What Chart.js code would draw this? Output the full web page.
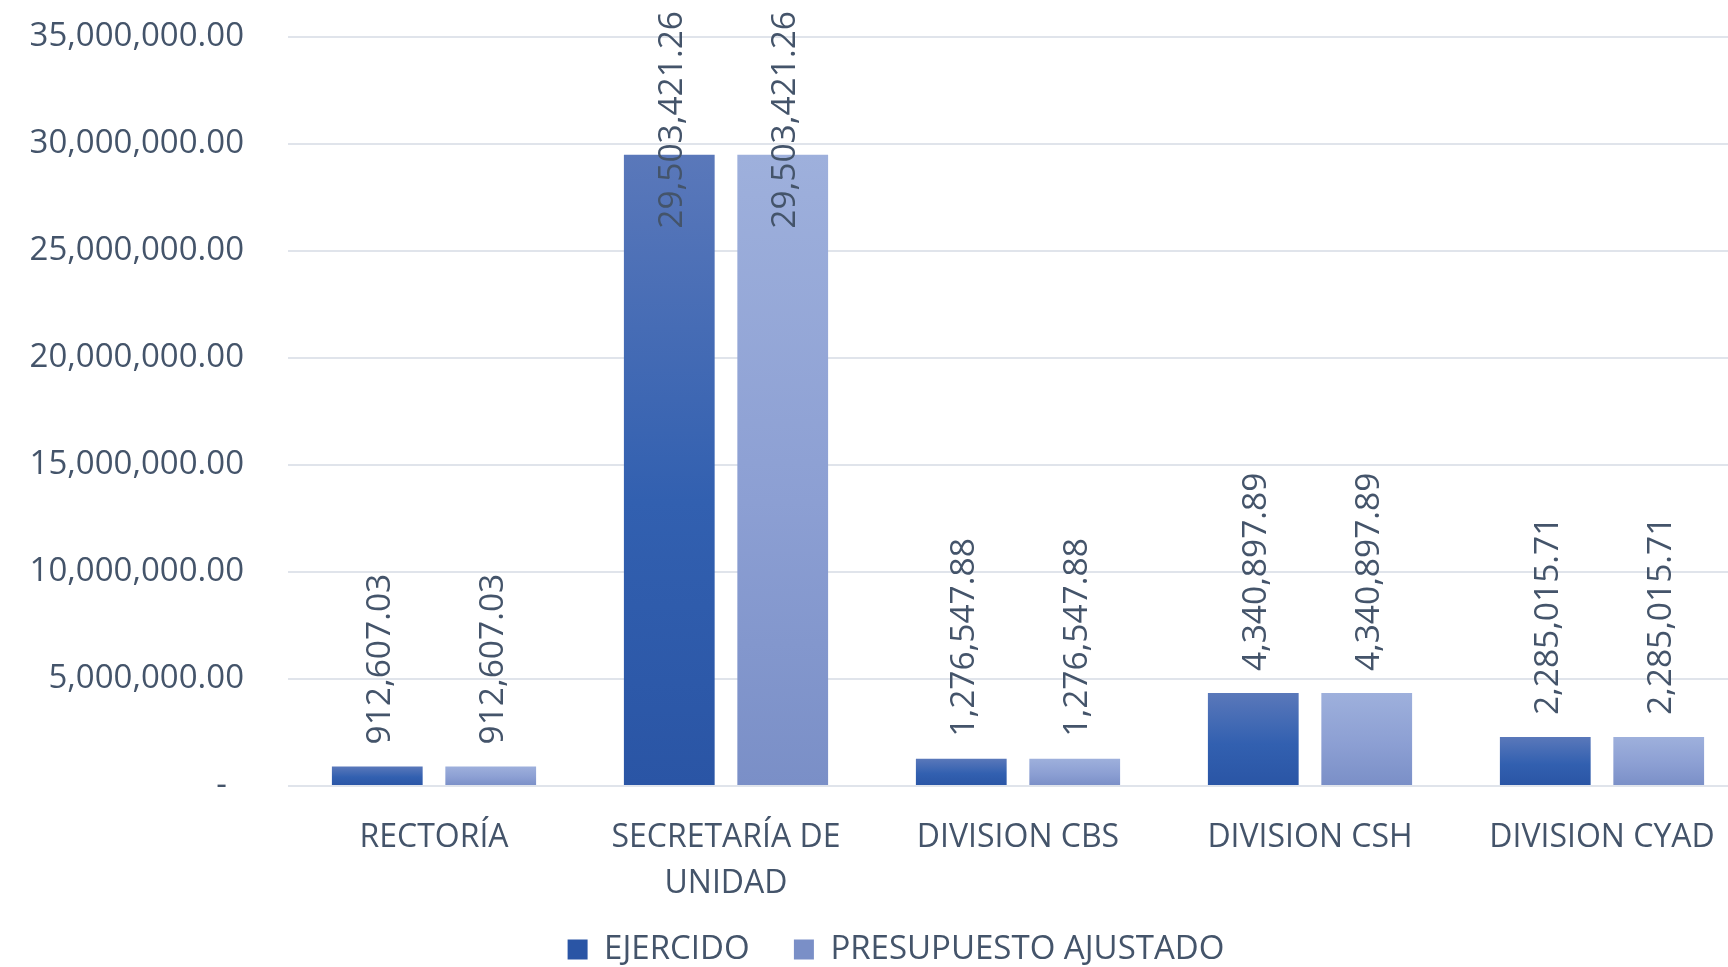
<!DOCTYPE html>
<html>
<head>
<meta charset="utf-8">
<title>Ejercido vs presupuesto ajustado</title>
<script src="https://cdn.jsdelivr.net/npm/chart.js@4/dist/chart.umd.min.js"></script>
<style>
  html, body { margin: 0; padding: 0; background: #fff; overflow: hidden; }
  #wrap { width: 1792px; height: 967px; }
</style>
</head>
<body>
<div id="wrap"><canvas id="budgetChart" width="1792" height="967"></canvas></div>
<script>
// categories (multi-line label as array)
const categories = ['RECTORÍA', ['SECRETARÍA DE', 'UNIDAD'], 'DIVISION CBS', 'DIVISION CSH', 'DIVISION CYAD'];

// series values
const ejercido = [912607.03, 29503421.26, 1276547.88, 4340897.89, 2285015.71];
const presupuestoAjustado = [912607.03, 29503421.26, 1276547.88, 4340897.89, 2285015.71];

// y axis ticks
const yMax = 35000000;
const yStep = 5000000;

const textColor = '#44546a';
const fontFamily = '"Open Sans", "Noto Sans", sans-serif';

const money = v => v.toLocaleString('en-US', { minimumFractionDigits: 2, maximumFractionDigits: 2 });

// vertical gradient inside each bar, from its top down to the zero line
function barGradient(stops, flat) {
    return function (context) {
        const chart = context.chart;
        if (context.type !== 'data' || !chart.chartArea) return flat;
        const y = chart.scales.y;
        const top = y.getPixelForValue(context.raw);
        const base = y.getPixelForValue(0);
        const g = chart.ctx.createLinearGradient(0, top, 0, base);
        g.addColorStop(0, stops[0]);
        g.addColorStop(0.55, stops[1]);
        g.addColorStop(1, stops[2]);
        return g;
    };
}

// rotated value labels above each bar, pushed down when they would leave the top
const valueLabels = {
    id: 'valueLabels',
    afterDatasetsDraw(chart) {
        const ctx = chart.ctx;
        ctx.save();
        ctx.font = '33.5px ' + fontFamily;
        ctx.fillStyle = textColor;
        ctx.textAlign = 'left';
        ctx.textBaseline = 'middle';
        chart.data.datasets.forEach((ds, i) => {
            chart.getDatasetMeta(i).data.forEach((bar, j) => {
                const text = money(ds.data[j]);
                const w = ctx.measureText(text).width;
                let start = bar.y - 22;
                if (start - w < 11) start = 11 + w;
                ctx.save();
                ctx.translate(bar.x + 3, start);
                ctx.rotate(-Math.PI / 2);
                ctx.fillText(text, 0, 0);
                ctx.restore();
            });
        });
        ctx.restore();
    }
};

// nudge the legend row a little to the right
const legendShift = {
    id: 'legendShift',
    afterLayout(chart) {
        if (chart.legend) {
            chart.legend.left += 9;
            chart.legend.right += 9;
        }
    }
};

const bottomPad = -9;

const ctx = document.getElementById('budgetChart').getContext('2d');

new Chart(ctx, {
    type: 'bar',
    data: {
        labels: categories,
        datasets: [
            {
                label: 'EJERCIDO',
                data: ejercido,
                backgroundColor: barGradient(['#5a78ba', '#3260b0', '#2a55a5'], '#3a62b0'),
                categoryPercentage: 0.777,
                barPercentage: 0.8
            },
            {
                label: 'PRESUPUESTO AJUSTADO',
                data: presupuestoAjustado,
                backgroundColor: barGradient(['#9eb0dc', '#8c9fd3', '#7a8fc7'], '#8ea1d4'),
                categoryPercentage: 0.777,
                barPercentage: 0.8
            }
        ]
    },
    options: {
        responsive: false,
        animation: false,
        layout: {
            padding: { top: 37, right: 44, left: 26, bottom: bottomPad }
        },
        plugins: {
            legend: {
                position: 'bottom',
                labels: {
                    color: textColor,
                    font: { family: fontFamily, size: 33 },
                    boxWidth: 20,
                    boxHeight: 20,
                    padding: 10,
                    // extra room after every item but the last one
                    generateLabels(chart) {
                        const items = Chart.defaults.plugins.legend.labels.generateLabels(chart);
                        items.forEach((it, k) => {
                            if (k < items.length - 1) it.text += '    ';
                        });
                        return items;
                    }
                }
            },
            tooltip: { enabled: false }
        },
        scales: {
            x: {
                grid: { display: false },
                border: { display: false },
                ticks: {
                    color: textColor,
                    font: { family: fontFamily, size: 32, lineHeight: 1.44 },
                    padding: 21,
                    maxRotation: 0,
                    autoSkip: false
                },
                // axis band fills the space between the zero line and the legend
                afterFit(scale) {
                    const lg = scale.chart.legend;
                    scale.height = 967 - bottomPad - (lg ? lg.height : 53) - 786;
                }
            },
            y: {
                min: 0,
                max: yMax,
                border: { display: false },
                grid: { color: '#e0e4eb', lineWidth: 2, drawTicks: false },
                ticks: {
                    stepSize: yStep,
                    color: textColor,
                    font: { family: fontFamily, size: 33 },
                    padding: 44,
                    callback: v => v === 0 ? '-  ' : money(v)
                },
                afterFit(scale) {
                    scale.width = 262;
                    // tick padding should not push the plot area down
                    scale.paddingTop = 0;
                    scale.paddingBottom = 0;
                }
            }
        }
    },
    plugins: [valueLabels, legendShift]
});
</script>
</body>
</html>
